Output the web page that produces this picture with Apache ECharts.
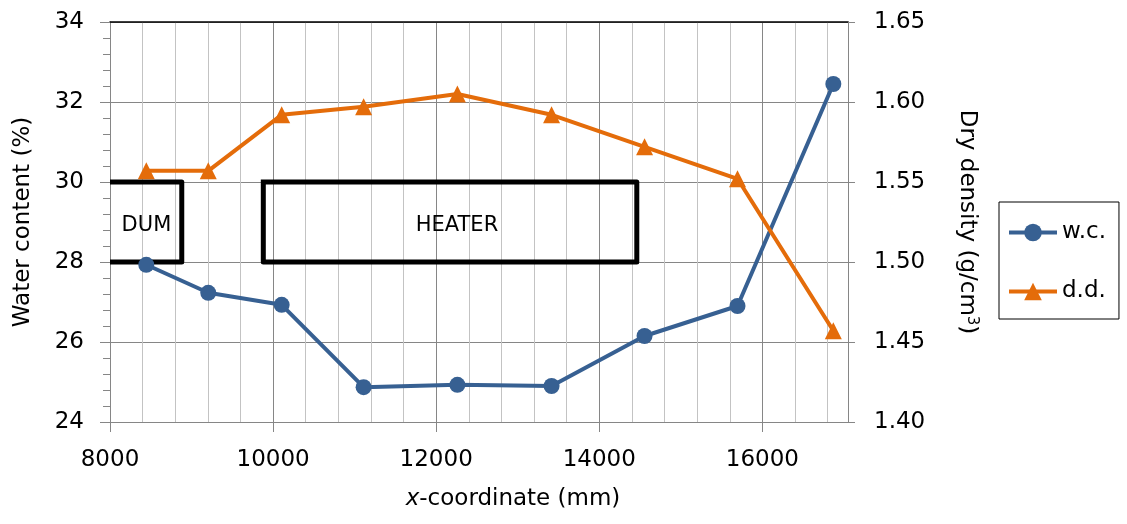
<!DOCTYPE html>
<html>
<head>
<meta charset="utf-8">
<script src="https://cdn.jsdelivr.net/npm/echarts@6/dist/echarts.min.js"></script>
<style>
html,body{margin:0;padding:0;background:#fff;}
#chart{width:1127px;height:524px;}
</style>
</head>
<body>
<div id="chart"></div>
<script>
// x positions of the samples (mm)
const xPos = [8445, 9205, 10105, 11110, 12260, 13415, 14555, 15695, 16870];
// water content (%)
const waterContent = [27.93, 27.23, 26.93, 24.87, 24.93, 24.90, 26.15, 26.90, 32.45];
// dry density (g/cm3)
const dryDensity = [1.557, 1.557, 1.592, 1.597, 1.605, 1.592, 1.572, 1.552, 1.457];
// tick labels
const xTicks = [8000, 10000, 12000, 14000, 16000];
// component outlines (x mm, water-content axis)
const dumBox = [[8000, 30], [8880, 30], [8880, 28], [8000, 28]];
const heaterBox = [[9880, 30], [14460, 30], [14460, 28], [9880, 28], [9880, 30]];
const boxLabels = [{ name: 'DUM', value: [8447, 28.9] }, { name: 'HEATER', value: [12255, 28.9] }];

const FONT = 'DejaVu Sans';
const BLUE = '#376092';
const ORANGE = '#E46C0A';
const MAJOR = '#868686';
const MINOR = '#c3c3c3';

const chart = echarts.init(document.getElementById('chart'), null, { renderer: 'canvas' });
chart.setOption({
  animation: false,
  backgroundColor: '#fff',
  textStyle: { fontFamily: FONT },
  grid: { left: 110, top: 22, right: 279, bottom: 102 },
  legend: {
    orient: 'vertical',
    left: 999, top: 202,
    padding: [19, 13, 16, 8],
    borderColor: '#000', borderWidth: 1,
    itemWidth: 48, itemHeight: 22, itemGap: 36,
    lineStyle: { width: 4 },
    textStyle: { fontFamily: FONT, fontSize: 23, color: '#000', lineHeight: 22 },
    data: ['w.c.', 'd.d.']
  },
  xAxis: [{
    type: 'value', position: 'bottom',
    min: 8000, max: 17050, interval: 2000,
    name: '{i|x}-coordinate (mm)', nameLocation: 'middle', nameGap: 66,
    nameTextStyle: {
      fontFamily: FONT, fontSize: 23, color: '#000', padding: [0, 0, 0, 68],
      rich: { i: { fontFamily: FONT, fontSize: 23, fontStyle: 'italic', color: '#000' } }
    },
    axisLine: { show: true, lineStyle: { color: MAJOR, width: 1 } },
    axisTick: { show: true, inside: false, length: 10, customValues: xTicks, lineStyle: { color: MAJOR } },
    axisLabel: { customValues: xTicks, margin: 27, fontFamily: FONT, fontSize: 23, color: '#000', formatter: v => String(v) },
    splitLine: { show: true, lineStyle: { color: MAJOR, width: 1 } },
    minorTick: { show: false, splitNumber: 5 },
    minorSplitLine: { show: true, lineStyle: { color: MINOR, width: 1 } }
  }, {
    type: 'value', position: 'top',
    min: 8000, max: 17050,
    axisLine: { show: true, onZero: false, lineStyle: { color: '#000', width: 1.5 } },
    axisTick: { show: false }, axisLabel: { show: false }, splitLine: { show: false }
  }],
  yAxis: [{
    type: 'value', position: 'left',
    min: 24, max: 34, interval: 2,
    name: 'Water content (%)', nameLocation: 'middle', nameGap: 75, nameRotate: 90,
    nameTextStyle: { fontFamily: FONT, fontSize: 23, color: '#000' },
    axisLine: { show: true, lineStyle: { color: MAJOR, width: 1 } },
    axisTick: { show: true, inside: false, length: 10, lineStyle: { color: MAJOR } },
    minorTick: { show: true, splitNumber: 5, length: 7, lineStyle: { color: MAJOR } },
    axisLabel: { margin: 26, fontFamily: FONT, fontSize: 23, color: '#000' },
    splitLine: { show: true, lineStyle: { color: MAJOR, width: 1 } }
  }, {
    type: 'value', position: 'right',
    min: 1.40, max: 1.65, interval: 0.05,
    name: 'Dry density (g/cm{sup|3})', nameLocation: 'middle', nameGap: 107, nameRotate: -90,
    nameTextStyle: {
      fontFamily: FONT, fontSize: 23, color: '#000', lineHeight: 24,
      rich: { sup: { fontFamily: FONT, fontSize: 15, color: '#000', verticalAlign: 'top', lineHeight: 24 } }
    },
    axisLine: { show: true, lineStyle: { color: MAJOR, width: 1 } },
    axisTick: { show: true, inside: false, length: 7, lineStyle: { color: MAJOR } },
    axisLabel: { margin: 26, fontFamily: FONT, fontSize: 23, color: '#000', formatter: v => v.toFixed(2) },
    splitLine: { show: false }
  }],
  series: [
    {
      type: 'line', name: 'DUM box', xAxisIndex: 0, yAxisIndex: 0,
      data: dumBox, showSymbol: false, symbol: 'none', silent: true, z: 1,
      lineStyle: { color: '#000', width: 5, join: 'round', cap: 'butt' }
    },
    {
      type: 'line', name: 'HEATER box', xAxisIndex: 0, yAxisIndex: 0,
      data: heaterBox, showSymbol: false, symbol: 'none', silent: true, z: 1,
      lineStyle: { color: '#000', width: 5, join: 'round', cap: 'square' }
    },
    {
      type: 'scatter', name: 'labels', xAxisIndex: 0, yAxisIndex: 0,
      data: boxLabels, symbolSize: 0, silent: true, z: 2,
      itemStyle: { opacity: 1 },
      label: { show: true, position: 'inside', formatter: '{b}', fontFamily: FONT, fontSize: 21, color: '#000', opacity: 1, textBorderWidth: 0 }
    },
    {
      type: 'line', name: 'w.c.', xAxisIndex: 0, yAxisIndex: 0,
      data: xPos.map((x, i) => [x, waterContent[i]]),
      symbol: 'circle', symbolSize: 16, z: 3,
      itemStyle: { color: BLUE },
      lineStyle: { color: BLUE, width: 4 }
    },
    {
      type: 'line', name: 'd.d.', xAxisIndex: 0, yAxisIndex: 1,
      data: xPos.map((x, i) => [x, dryDensity[i]]),
      symbol: 'triangle', symbolSize: 17, z: 3,
      itemStyle: { color: ORANGE },
      lineStyle: { color: ORANGE, width: 4 }
    }
  ]
});
</script>
</body>
</html>
